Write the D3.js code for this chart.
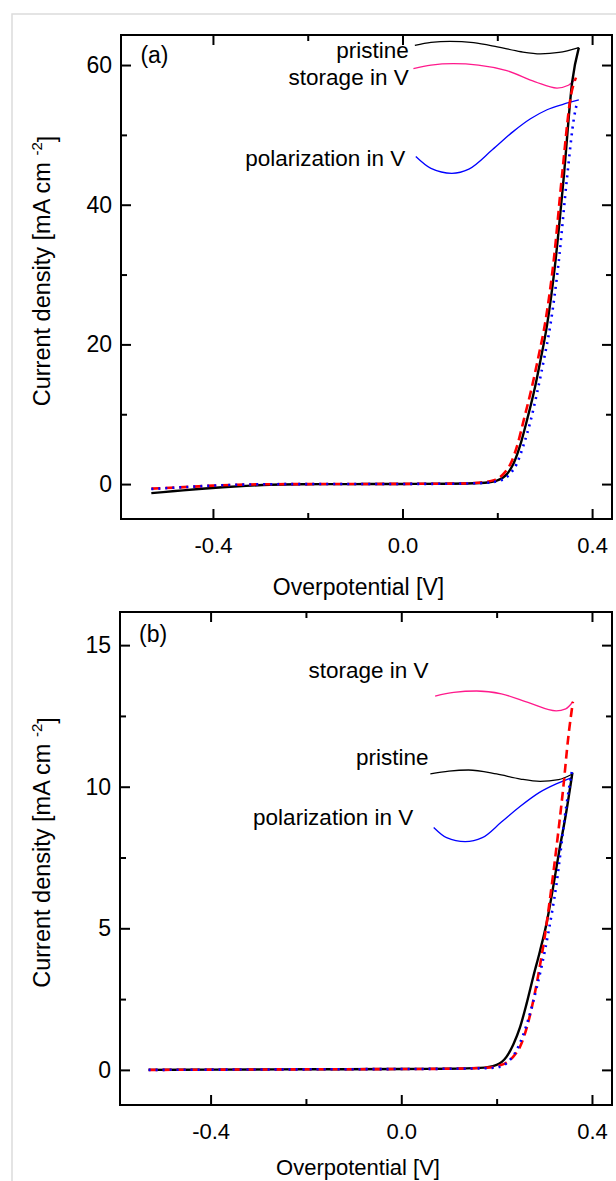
<!DOCTYPE html>
<html>
<head>
<meta charset="utf-8">
<script src="https://cdn.jsdelivr.net/npm/d3@7"></script>
<style>
  body { margin: 0; background: #fff; }
  text { font-family: "Liberation Sans", Arial, sans-serif; fill: #000; }
</style>
</head>
<body>
<div id="vis"></div>
<script>
// ---- data: [overpotential V, current density mA cm-2] ----
var pristineA = [[-0.53,-1.3],[-0.48,-1.0],[-0.43,-0.7],[-0.38,-0.45],[-0.33,-0.25],[-0.28,-0.1],[-0.22,-0.02],[-0.1,0],[0.0,0.02],[0.1,0.05],[0.164,0.15],[0.199,0.5],[0.22,1.4],[0.234,2.9],[0.248,5.5],[0.262,9.0],[0.277,13.1],[0.291,17.7],[0.305,22.8],[0.322,31.5],[0.34,43.8],[0.358,57.6],[0.372,62.5]];
var storageA = [[-0.53,-0.65],[-0.45,-0.4],[-0.4,-0.22],[-0.35,-0.1],[-0.3,-0.03],[-0.2,0],[0.0,0.03],[0.1,0.06],[0.16,0.2],[0.195,0.6],[0.215,1.6],[0.23,3.2],[0.244,6.0],[0.257,9.5],[0.272,13.6],[0.287,18.3],[0.302,23.5],[0.319,32],[0.337,44.5],[0.355,55.5],[0.366,58.2]];
var polarA = [[-0.53,-0.7],[-0.45,-0.4],[-0.4,-0.22],[-0.35,-0.1],[-0.3,-0.03],[-0.2,0],[0.0,0.02],[0.1,0.05],[0.17,0.15],[0.205,0.5],[0.226,1.4],[0.241,2.9],[0.255,5.5],[0.27,9.0],[0.284,13.1],[0.298,17.7],[0.312,22.8],[0.329,31.5],[0.347,43.8],[0.362,52.5],[0.369,54.8]];

var pristineB = [[-0.53,0.0],[-0.4,0.01],[-0.2,0.02],[0.0,0.03],[0.1,0.04],[0.165,0.07],[0.2,0.18],[0.221,0.47],[0.235,0.9],[0.249,1.5],[0.263,2.35],[0.277,3.3],[0.291,4.2],[0.305,5.2],[0.318,6.4],[0.332,7.8],[0.345,9.0],[0.359,10.5]];
var storageB = [[-0.53,0.0],[-0.2,0.02],[0.0,0.03],[0.1,0.04],[0.18,0.08],[0.205,0.15],[0.22,0.25],[0.235,0.47],[0.25,0.85],[0.265,1.6],[0.28,2.7],[0.29,3.6],[0.3,4.6],[0.31,5.8],[0.32,7.1],[0.33,8.5],[0.34,10.0],[0.35,11.7],[0.36,13.0]];
var polarB = [[-0.53,0.0],[-0.2,0.02],[0.0,0.03],[0.1,0.04],[0.18,0.06],[0.21,0.12],[0.221,0.24],[0.242,0.7],[0.266,1.76],[0.284,2.9],[0.308,4.8],[0.325,6.5],[0.346,9.3],[0.359,10.65]];

// leader curves joining each label to its trace end
var pristineLeadA = [[0.026,62.8],[0.06,63.25],[0.1,63.4],[0.15,63.2],[0.2,62.6],[0.25,61.9],[0.291,61.6],[0.33,61.8],[0.372,62.5]];
var storageLeadA = [[0.023,59.5],[0.06,60.0],[0.107,60.2],[0.16,60.0],[0.22,59.2],[0.28,57.6],[0.326,56.7],[0.35,57.1],[0.365,58.0]];
var polarLeadA = [[0.028,46.9],[0.06,45.2],[0.104,44.5],[0.14,45.1],[0.19,47.9],[0.234,50.5],[0.27,52.3],[0.305,53.6],[0.34,54.4],[0.372,55.0]];
var storageLeadB = [[0.071,13.2],[0.11,13.33],[0.158,13.38],[0.21,13.28],[0.27,12.95],[0.325,12.68],[0.345,12.75],[0.36,13.0]];
var pristineLeadB = [[0.061,10.45],[0.1,10.55],[0.141,10.59],[0.2,10.45],[0.25,10.27],[0.291,10.19],[0.33,10.25],[0.359,10.45]];
var polarLeadB = [[0.068,8.56],[0.095,8.2],[0.134,8.06],[0.17,8.2],[0.21,8.75],[0.249,9.3],[0.29,9.8],[0.325,10.1],[0.359,10.33]];

var xTickValues = [-0.4, 0.0, 0.4];
var xMinorValues = [-0.2, 0.2];
var yTicksA = [0, 20, 40, 60];
var yMinorA = [10, 30, 50];
var yTicksB = [0, 5, 10, 15];
var yMinorB = [2.5, 7.5, 12.5];

var width = 616, height = 1181;

var svg = d3.select('#vis').append('svg')
    .attr('width', width)
    .attr('height', height);

// light grey outer frame
svg.append('rect')
    .attr('x', 12).attr('y', 14)
    .attr('width', 640).attr('height', 1200)
    .attr('fill', 'none')
    .attr('stroke', '#dcdcdc')
    .attr('stroke-width', 1.5);

var panels = [
    {
        left: 121, top: 35, w: 491, h: 484,
        xDomain: [-0.594, 0.442], yDomain: [-5.0, 64.3],
        yTicks: yTicksA, yMinor: yMinorA, tag: '(a)', tagPos: [-0.553, 61.4],
        titleGap: 68, titleSize: 23,
        series: [pristineA, storageA, polarA],
        leads: [pristineLeadA, storageLeadA, polarLeadA],
        labels: [
            {text: 'pristine', at: [0.013, 62.2]},
            {text: 'storage in V', at: [0.013, 58.3]},
            {text: 'polarization in V', at: [0.006, 46.7]}
        ]
    },
    {
        left: 120, top: 612, w: 492, h: 493,
        xDomain: [-0.59, 0.442], yDomain: [-1.24, 16.17],
        yTicks: yTicksB, yMinor: yMinorB, tag: '(b)', tagPos: [-0.55, 15.4],
        titleGap: 62, titleSize: 22,
        series: [pristineB, storageB, polarB],
        leads: [pristineLeadB, storageLeadB, polarLeadB],
        labels: [
            {text: 'pristine', at: [0.057, 11.05]},
            {text: 'storage in V', at: [0.057, 14.1]},
            {text: 'polarization in V', at: [0.025, 8.93]}
        ]
    }
];

// styles for pristine, storage, polarization
var traceStyle = [
    {color: '#000000', dash: null, width: 2.4},
    {color: '#ff0000', dash: '9,5', width: 2.6},
    {color: '#0000ff', dash: '2,5', width: 2.6}
];
var leadColor = ['#000000', '#ff1a8c', '#0000ff'];

panels.forEach(function(p) {
    var xScale = d3.scaleLinear().domain(p.xDomain).range([p.left, p.left + p.w]);
    var yScale = d3.scaleLinear().domain(p.yDomain).range([p.top + p.h, p.top]);

    var g = svg.append('g');

    // clip for traces
    var clipId = 'clip' + p.tag.replace(/\W/g, '');
    svg.append('clipPath').attr('id', clipId)
        .append('rect')
        .attr('x', p.left).attr('y', p.top)
        .attr('width', p.w).attr('height', p.h);

    var line = d3.line()
        .x(function(d) { return xScale(d[0]); })
        .y(function(d) { return yScale(d[1]); })
        .curve(d3.curveMonotoneX);

    // leader curves
    p.leads.forEach(function(s, i) {
        g.append('path')
            .attr('d', line(s))
            .attr('fill', 'none')
            .attr('stroke', leadColor[i])
            .attr('stroke-width', 1.3);
    });

    // traces
    var traces = g.append('g').attr('clip-path', 'url(#' + clipId + ')');
    p.series.forEach(function(s, i) {
        traces.append('path')
            .attr('d', line(s))
            .attr('fill', 'none')
            .attr('stroke', traceStyle[i].color)
            .attr('stroke-width', traceStyle[i].width)
            .attr('stroke-dasharray', traceStyle[i].dash);
    });

    // axes: ticks inward on all four sides
    function drawAxis(axisFn, scale, values, size, pos, labels) {
        var ax = axisFn(scale).tickValues(values).tickSize(size).tickPadding(12);
        if (!labels) ax.tickFormat('');
        var a = g.append('g').attr('transform', pos).call(ax);
        a.select('.domain').remove();
        a.selectAll('line').attr('stroke', '#000').attr('stroke-width', 2);
        return a;
    }

    var bottomPos = 'translate(0,' + (p.top + p.h) + ')';
    var topPos = 'translate(0,' + p.top + ')';
    var leftPos = 'translate(' + p.left + ',0)';
    var rightPos = 'translate(' + (p.left + p.w) + ',0)';

    var xa = drawAxis(d3.axisBottom, xScale, xTickValues, -10, bottomPos, true);
    xa.selectAll('text')
        .attr('y', 18)
        .attr('dy', '0.71em')
        .style('font-size', '22px')
        .text(function(d) { return d3.format('.1f')(d).replace('\u2212', '-'); });
    drawAxis(d3.axisBottom, xScale, xMinorValues, -6, bottomPos, false);
    drawAxis(d3.axisTop, xScale, xTickValues, -10, topPos, false);
    drawAxis(d3.axisTop, xScale, xMinorValues, -6, topPos, false);

    var ya = drawAxis(d3.axisLeft, yScale, p.yTicks, -10, leftPos, true);
    ya.selectAll('text')
        .attr('x', -9)
        .style('font-size', '23px');
    drawAxis(d3.axisLeft, yScale, p.yMinor, -6, leftPos, false);
    drawAxis(d3.axisRight, yScale, p.yTicks, -10, rightPos, false);
    drawAxis(d3.axisRight, yScale, p.yMinor, -6, rightPos, false);

    // frame
    g.append('rect')
        .attr('x', p.left).attr('y', p.top)
        .attr('width', p.w).attr('height', p.h)
        .attr('fill', 'none')
        .attr('stroke', '#000')
        .attr('stroke-width', 2);

    // panel tag
    g.append('text')
        .attr('x', xScale(p.tagPos[0]))
        .attr('y', yScale(p.tagPos[1]))
        .attr('dy', '0.35em')
        .style('font-size', '23px')
        .text(p.tag);

    // trace labels
    p.labels.forEach(function(l) {
        g.append('text')
            .attr('x', xScale(l.at[0]))
            .attr('y', yScale(l.at[1]))
            .attr('dy', '0.35em')
            .attr('text-anchor', 'end')
            .style('font-size', '22.5px')
            .text(l.text);
    });

    // axis titles
    g.append('text')
        .attr('x', p.left + p.w / 2 - 8)
        .attr('y', p.top + p.h + p.titleGap)
        .attr('dy', '0.35em')
        .attr('text-anchor', 'middle')
        .style('font-size', p.titleSize + 'px')
        .text('Overpotential [V]');

    var yt = g.append('text')
        .attr('transform', 'translate(42,' + (p.top + p.h / 2 - 6) + ') rotate(-90)')
        .attr('text-anchor', 'middle')
        .attr('dy', '0.35em')
        .style('font-size', '23.5px');
    yt.append('tspan').text('Current density [mA cm ');
    yt.append('tspan').attr('dy', '-0.55em').style('font-size', '15px').text('-2');
    yt.append('tspan').attr('dy', '0.55em').text(']');
});
</script>
</body>
</html>
